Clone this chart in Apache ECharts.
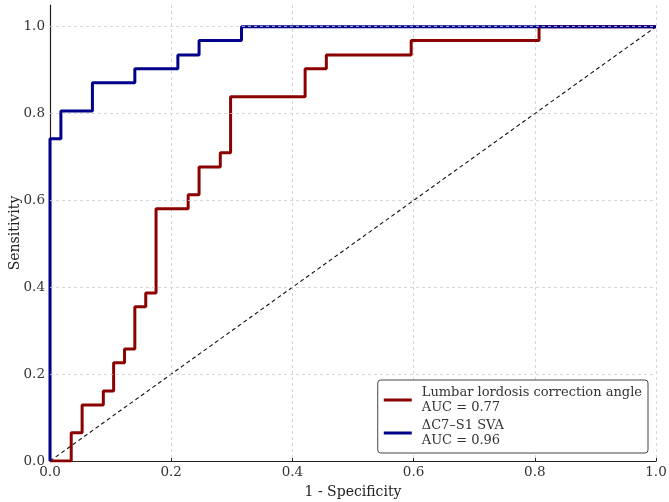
<!DOCTYPE html>
<html>
<head>
<meta charset="utf-8">
<script src="https://cdn.jsdelivr.net/npm/echarts@6/dist/echarts.min.js"></script>
<style>
  html, body { margin: 0; padding: 0; background: #fff; }
  #chart { width: 669px; height: 502px; }
</style>
</head>
<body>
<div id="chart"></div>
<script>
// ROC curve corners (fpr, tpr)
const llFpr = [0, 0.035, 0.035, 0.053, 0.053, 0.088, 0.088, 0.105, 0.105, 0.123, 0.123, 0.140, 0.140, 0.158, 0.158, 0.175, 0.175, 0.228, 0.228, 0.246, 0.246, 0.281, 0.281, 0.298, 0.298, 0.421, 0.421, 0.456, 0.456, 0.596, 0.596, 0.807, 0.807, 1.0];
const llTpr = [0, 0, 0.065, 0.065, 0.129, 0.129, 0.161, 0.161, 0.226, 0.226, 0.258, 0.258, 0.355, 0.355, 0.387, 0.387, 0.581, 0.581, 0.613, 0.613, 0.677, 0.677, 0.710, 0.710, 0.839, 0.839, 0.903, 0.903, 0.935, 0.935, 0.968, 0.968, 1.0, 1.0];

const svaFpr = [0, 0, 0.018, 0.018, 0.070, 0.070, 0.140, 0.140, 0.211, 0.211, 0.246, 0.246, 0.316, 0.316, 1.0];
const svaTpr = [0, 0.742, 0.742, 0.806, 0.806, 0.871, 0.871, 0.903, 0.903, 0.935, 0.935, 0.968, 0.968, 1.0, 1.0];

const seriesNames = ['Lumbar lordosis correction angle\nAUC = 0.77', '\u0394C7\u2013S1 SVA\nAUC = 0.96'];
const tickValues = [0.2, 0.4, 0.6, 0.8, 1.0];

const font = 'DejaVu Serif';
const zip = (xs, ys) => xs.map((x, i) => [x, ys[i]]);

const chart = echarts.init(document.getElementById('chart'));
chart.setOption({
  animation: false,
  grid: { left: 50, right: 13, top: 5, bottom: 41, outerBoundsMode: 'none' },
  legend: {
    right: 21,
    bottom: 49,
    orient: 'vertical',
    backgroundColor: '#fff',
    borderColor: '#444',
    borderWidth: 1,
    borderRadius: 3,
    padding: [5, 6, 5, 6],
    itemWidth: 28,
    itemHeight: 3,
    itemGap: 3,
    textStyle: { fontFamily: font, fontSize: 13, color: '#333', lineHeight: 15, padding: [0, 0, 0, 5] },
    data: seriesNames.map(n => ({ name: n, icon: 'rect' }))
  },
  xAxis: {
    type: 'value',
    min: 0,
    max: 1,
    interval: 0.2,
    name: '1 - Specificity',
    nameLocation: 'middle',
    nameGap: 24,
    nameTextStyle: { fontFamily: font, fontSize: 14, color: '#222' },
    axisLine: { lineStyle: { color: '#222', width: 1.2 } },
    axisTick: { inside: true, length: 3, lineStyle: { color: '#222' } },
    axisLabel: { fontFamily: font, fontSize: 13.5, color: '#333', margin: 4, formatter: v => v.toFixed(1) },
    splitLine: { show: true, lineStyle: { color: '#ccc', type: [3, 3], width: 0.8 } }
  },
  yAxis: {
    type: 'value',
    min: 0,
    max: 1.05,
    interval: 0.2,
    name: 'Sensitivity',
    nameLocation: 'middle',
    nameGap: 28,
    nameMoveOverlap: false,
    nameTextStyle: { fontFamily: font, fontSize: 14, color: '#222' },
    axisLine: { show: true, lineStyle: { color: '#222', width: 1.2 } },
    axisTick: { show: false },
    axisLabel: { fontFamily: font, fontSize: 13.5, color: '#333', margin: 5, showMaxLabel: false, formatter: v => v.toFixed(1) },
    splitLine: { show: false }
  },
  series: [
    {
      type: 'line',
      silent: true,
      symbol: 'none',
      data: [[0, 0], [1, 1]],
      lineStyle: { color: '#111', width: 1.1, type: [4, 3] },
      markLine: {
        silent: true,
        symbol: 'none',
        label: { show: false },
        lineStyle: { color: '#ccc', type: [3, 3], width: 0.8 },
        data: tickValues.map(v => ({ yAxis: v }))
      },
      z: 1
    },
    {
      name: seriesNames[0],
      type: 'line',
      symbol: 'none',
      data: zip(llFpr, llTpr),
      itemStyle: { color: '#8b0000' },
      lineStyle: { color: '#8b0000', width: 3 },
      z: 3
    },
    {
      name: seriesNames[1],
      type: 'line',
      symbol: 'none',
      data: zip(svaFpr, svaTpr),
      itemStyle: { color: '#00008b' },
      lineStyle: { color: '#00008b', width: 3 },
      z: 4
    }
  ]
});
</script>
</body>
</html>
